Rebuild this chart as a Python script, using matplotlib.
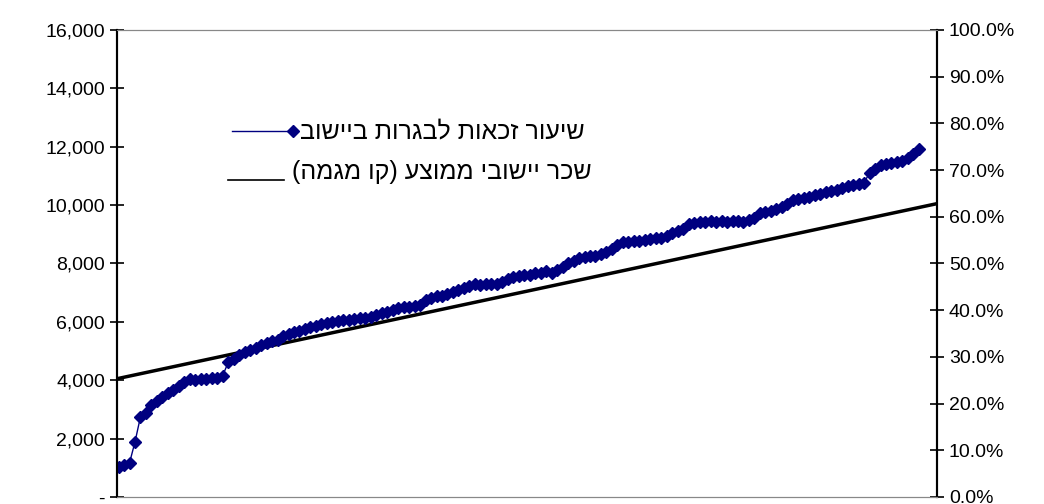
import matplotlib
matplotlib.use("Agg")
import matplotlib.pyplot as plt
from matplotlib.lines import Line2D
from matplotlib.ticker import FuncFormatter, MultipleLocator

plt.rcParams["font.family"] = ["Liberation Sans", "DejaVu Sans"]

# eligibility rate (%) per locality, sorted
eligibility = [
    6.4, 6.8, 7.3, 11.8, 17.2, 18.0, 19.6, 20.5, 21.3, 22.2,
    23.0, 23.8, 24.6, 25.3, 25.1, 25.2, 25.3, 25.4, 25.5, 26.0,
    28.8, 29.6, 30.4, 31.0, 31.4, 32.0, 32.6, 33.0, 33.3, 33.7,
    34.5, 35.0, 35.3, 35.6, 36.0, 36.3, 36.6, 37.0, 37.3, 37.5,
    37.6, 37.8, 38.0, 38.1, 38.3, 38.4, 38.6, 39.0, 39.4, 39.7,
    40.1, 40.5, 40.7, 40.6, 40.9, 41.1, 42.2, 42.6, 43.0, 43.1,
    43.5, 43.9, 44.3, 44.8, 45.2, 45.5, 45.4, 45.6, 45.5, 45.7,
    46.1, 46.6, 47.0, 47.4, 47.5, 47.6, 47.9, 48.0, 48.3, 48.0,
    48.5, 49.3, 50.0, 50.6, 51.1, 51.4, 51.6, 51.7, 52.1, 52.5,
    53.0, 54.0, 54.5, 54.6, 54.8, 54.9, 55.1, 55.3, 55.4, 55.5,
    55.8, 56.5, 57.0, 57.4, 58.5, 58.7, 58.8, 58.9, 59.1, 58.9,
    59.0, 58.8, 59.0, 59.1, 58.9, 59.3, 59.8, 60.8, 61.1, 61.3,
    61.6, 62.0, 62.8, 63.6, 63.9, 64.1, 64.3, 64.6, 64.9, 65.2,
    65.5, 65.8, 66.2, 66.6, 66.9, 67.0, 67.3, 69.4, 70.3, 71.0,
    71.4, 71.5, 71.7, 72.0, 72.6, 73.4, 74.6,
]
# average wage trend line, start and end (NIS)
wage_trend = [4050, 10050]

label_rate = "שיעור זכאות לבגרות ביישוב"
label_wage = "שכר יישובי ממוצע (קו מגמה)"


def visual(s):
    # matplotlib has no bidi: reverse and mirror brackets
    return s[::-1].translate(str.maketrans("()", ")("))


navy = "#000080"
fig = plt.figure(figsize=(10.44, 5.04), dpi=100)
ax = fig.add_axes([0.112, 0.014, 0.7855, 0.9265])
ax2 = ax.twinx()

x_end = 149.3
ax.plot([-0.3, x_end], wage_trend, color="black", lw=2.5)
ax2.plot(range(len(eligibility)), [v / 100 for v in eligibility], color=navy,
         lw=1, marker="D", ms=6)

ax.set_xlim(-0.3, x_end)
ax.set_ylim(0, 16000)
ax2.set_ylim(0, 1)
ax.yaxis.set_major_locator(MultipleLocator(2000))
ax2.yaxis.set_major_locator(MultipleLocator(0.1))
ax.yaxis.set_major_formatter(FuncFormatter(lambda v, p: "-" if v == 0 else f"{v:,.0f}"))
ax2.yaxis.set_major_formatter(FuncFormatter(lambda v, p: f"{v * 100:.1f}%"))
ax.set_xticks([])
for a in (ax, ax2):
    a.tick_params(axis="y", direction="inout", length=10, width=1.2, labelsize=14)
    a.spines["top"].set_color("#888888")
    a.spines["bottom"].set_color("#888888")
    a.spines["left"].set_linewidth(1.5)
    a.spines["right"].set_linewidth(1.5)

# legend drawn by hand (right-to-left text)
fig.text(0.287, 0.740, visual(label_rate), ha="left", va="center", fontsize=18)
fig.add_artist(Line2D([0.222, 0.281], [0.740, 0.740], color=navy, lw=1,
                      marker="D", ms=6, markevery=[1]))
fig.text(0.280, 0.658, visual(label_wage), ha="left", va="center", fontsize=18)
fig.add_artist(Line2D([0.218, 0.272], [0.642, 0.642], color="black", lw=1.2))

fig.savefig("out.png", dpi=100)
